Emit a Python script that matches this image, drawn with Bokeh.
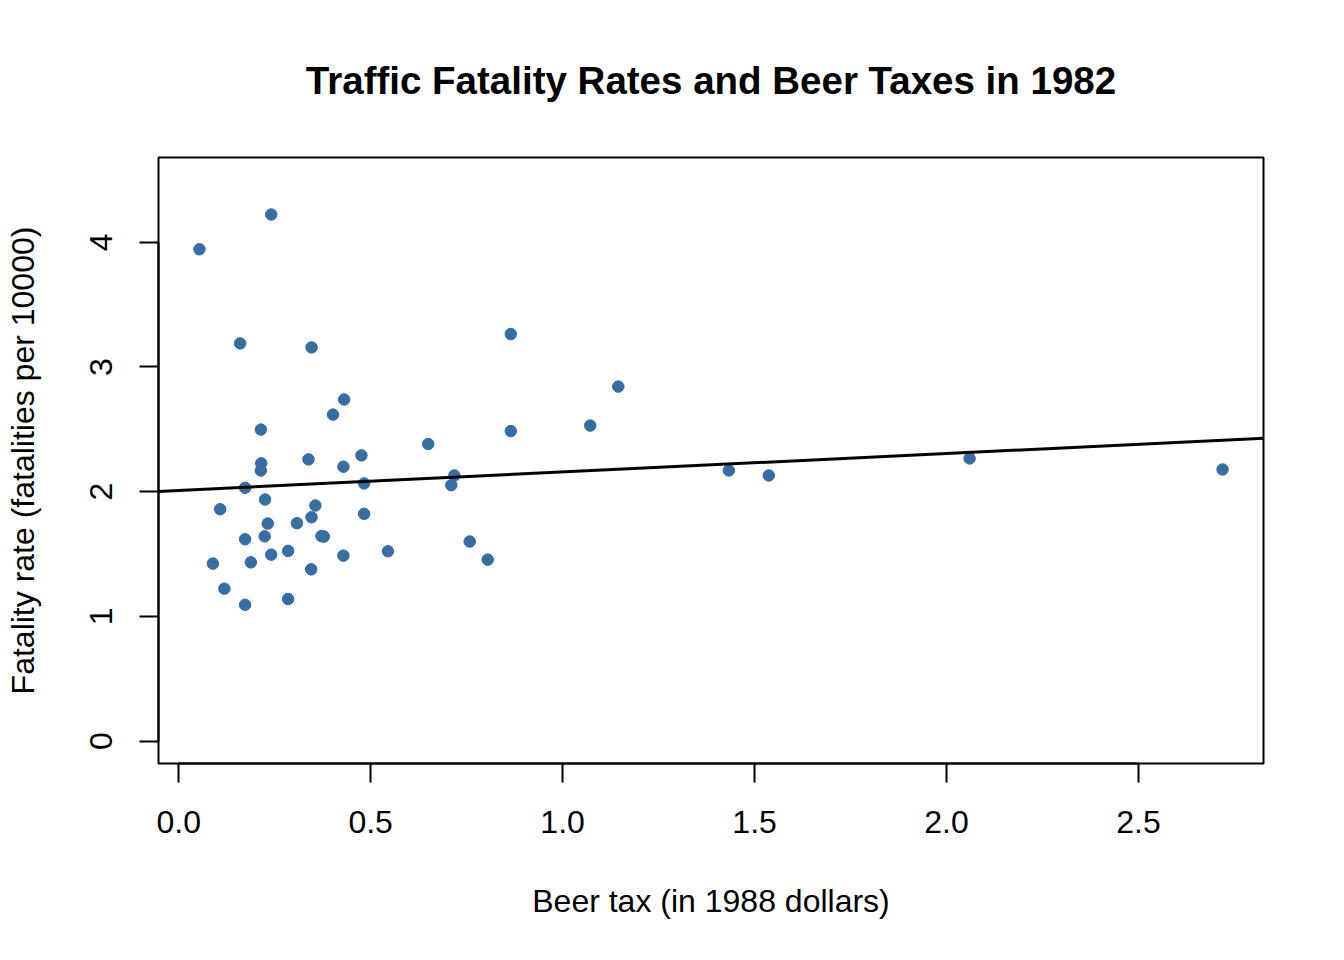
from bokeh.plotting import figure
from bokeh.models import Range1d, FixedTicker, PrintfTickFormatter, Slope
from bokeh.embed import file_html
from bokeh.resources import INLINE

# Data (US states, 1982)
beer_tax = [0.054, 0.241, 0.160, 0.346, 0.865, 1.145, 0.431, 0.402, 0.214, 0.865,
            1.072, 0.650, 0.476, 0.338, 0.215, 0.214, 0.429, 0.718, 0.710, 0.483,
            0.173, 0.225, 1.433, 1.537, 2.060, 2.719, 0.108, 0.356, 0.483, 0.346,
            0.232, 0.308, 0.372, 0.378, 0.224, 0.173, 0.758, 0.285, 0.545, 0.241,
            0.429, 0.805, 0.188, 0.089, 0.345, 0.119, 0.285, 0.173]
fatality_rate = [3.944, 4.223, 3.189, 3.157, 3.264, 2.843, 2.739, 2.618, 2.498, 2.486,
                 2.530, 2.382, 2.291, 2.259, 2.227, 2.170, 2.200, 2.130, 2.052, 2.066,
                 2.031, 1.937, 2.170, 2.130, 2.267, 2.178, 1.859, 1.889, 1.822, 1.795,
                 1.744, 1.747, 1.644, 1.640, 1.642, 1.618, 1.600, 1.525, 1.522, 1.495,
                 1.487, 1.455, 1.433, 1.423, 1.377, 1.222, 1.139, 1.093]

# OLS fit
fit_intercept = 2.01
fit_slope = 0.148

x_ticks = [0.0, 0.5, 1.0, 1.5, 2.0, 2.5]
y_ticks = [0, 1, 2, 3, 4]
y_lim = (0.0, 4.5)

title_text = "Traffic Fatality Rates and Beer Taxes in 1982"
x_label = "Beer tax (in 1988 dollars)"
y_label = "Fatality rate (fatalities per 10000)"

# R-style 4% range extension
xmin, xmax = min(beer_tax), max(beer_tax)
dx = (xmax - xmin) * 0.04
dy = (y_lim[1] - y_lim[0]) * 0.04

FONT = "Liberation Sans"

p = figure(width=1336, height=952, output_backend="svg", toolbar_location=None,
           x_range=Range1d(xmin - dx, xmax + dx),
           y_range=Range1d(y_lim[0] - dy, y_lim[1] + dy),
           min_border_left=158, min_border_right=73,
           min_border_top=157, min_border_bottom=189,
           title=title_text)

p.background_fill_color = "white"
p.border_fill_color = "white"
p.outline_line_color = "black"
p.outline_line_width = 2
p.xgrid.visible = False
p.ygrid.visible = False

p.title.text_font = FONT
p.title.text_font_size = "38.5px"
p.title.text_font_style = "bold"
p.title.text_color = "black"
p.title.align = "center"
p.title.standoff = 111

for ax in (p.xaxis[0], p.yaxis[0]):
    ax.axis_line_color = "black"
    ax.axis_line_width = 2
    ax.major_tick_line_color = "black"
    ax.major_tick_line_width = 2
    ax.major_tick_out = 19
    ax.major_tick_in = 0
    ax.minor_tick_line_color = None
    ax.major_label_text_font = FONT
    ax.major_label_text_font_size = "32px"
    ax.major_label_text_color = "black"
    ax.axis_label_text_font = FONT
    ax.axis_label_text_font_size = "32px"
    ax.axis_label_text_font_style = "normal"
    ax.axis_label_text_color = "black"

xa = p.xaxis[0]
xa.ticker = FixedTicker(ticks=x_ticks)
xa.formatter = PrintfTickFormatter(format="%.1f")
xa.bounds = (x_ticks[0], x_ticks[-1])
xa.axis_label = x_label
xa.major_label_standoff = 28
xa.axis_label_standoff = 47

ya = p.yaxis[0]
ya.ticker = FixedTicker(ticks=y_ticks)
ya.formatter = PrintfTickFormatter(format="%d")
ya.bounds = (y_ticks[0], y_ticks[-1])
ya.axis_label = y_label
ya.major_label_orientation = "vertical"
ya.major_label_standoff = 27
ya.axis_label_standoff = 47

p.scatter(beer_tax, fatality_rate, size=11.5, fill_color="#386CA5",
          line_color="#386CA5", line_width=1)

p.add_layout(Slope(gradient=fit_slope, y_intercept=fit_intercept,
                   line_color="black", line_width=3))

open("out.html", "w").write(file_html(p, INLINE))
